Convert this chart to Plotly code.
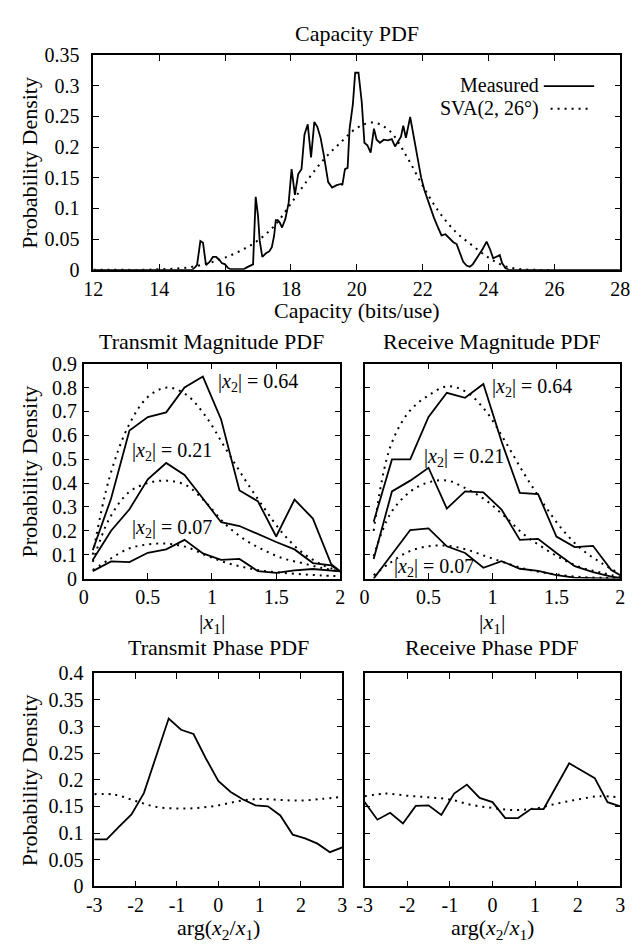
import plotly.graph_objects as go

W, H = 641, 950
FONT = "Liberation Serif"

# ---------------- data ----------------
cap_x = [12.0, 15.0, 15.1, 15.15, 15.25, 15.33, 15.42, 15.53, 15.63, 15.73, 15.83, 15.9, 16.0, 16.09, 16.17,
         16.56, 16.66, 16.8, 16.85, 16.93, 17.0, 17.05, 17.13, 17.24, 17.34, 17.42, 17.49, 17.54, 17.6, 17.66,
         17.73, 17.83, 17.93, 18.02, 18.12, 18.22, 18.32, 18.41, 18.51, 18.61, 18.71, 18.8, 18.9, 19.0, 19.13,
         19.25, 19.39, 19.52, 19.56, 19.64, 19.72, 19.78, 19.88, 19.95, 20.05, 20.15, 20.23, 20.32, 20.42, 20.52,
         20.6, 20.7, 20.82, 20.94, 21.06, 21.16, 21.26, 21.34, 21.41, 21.49, 21.62, 21.72, 21.85, 21.95, 22.05,
         22.15, 22.25, 22.34, 22.44, 22.57, 22.69, 22.78, 22.93, 23.03, 23.13, 23.23, 23.33, 23.43, 23.52, 23.67,
         23.82, 23.94, 24.04, 24.14, 24.24, 24.34, 24.41, 24.51, 24.61, 28.0]
cap_measured = [0, 0, 0.005, 0.008, 0.047, 0.044, 0.008, 0.013, 0.021, 0.021, 0.016, 0.011, 0.009, 0.003, 0.001,
                0.001, 0.004, 0.008, 0.009, 0.119, 0.088, 0.048, 0.021, 0.027, 0.030, 0.037, 0.056, 0.081, 0.081, 0.077,
                0.069, 0.083, 0.109, 0.164, 0.122, 0.156, 0.164, 0.22, 0.237, 0.183, 0.241, 0.233, 0.215, 0.186, 0.143,
                0.134, 0.138, 0.140, 0.138, 0.164, 0.166, 0.23, 0.27, 0.321, 0.321, 0.273, 0.207, 0.203, 0.191, 0.23,
                0.212, 0.207, 0.212, 0.211, 0.213, 0.201, 0.209, 0.217, 0.235, 0.215, 0.249, 0.22, 0.183, 0.151, 0.130,
                0.114, 0.098, 0.085, 0.072, 0.056, 0.058, 0.053, 0.045, 0.042, 0.027, 0.013, 0.007, 0.005, 0.009, 0.021,
                0.034, 0.046, 0.034, 0.019, 0.021, 0.024, 0.011, 0.003, 0, 0]

sva_cap_x = [12, 12.5, 13, 13.5, 14, 14.5, 15, 15.5, 16, 16.5, 17, 17.5, 18, 18.5, 19, 19.5, 20, 20.5, 21,
             21.5, 22, 22.5, 23, 23.5, 24, 24.5, 25, 25.5, 26]
sva_cap = [0, 0, 0, 0, 0.001, 0.002, 0.005, 0.011, 0.02, 0.032, 0.048, 0.072, 0.108, 0.146, 0.18, 0.207,
           0.231, 0.24, 0.226, 0.186, 0.137, 0.094, 0.062, 0.04, 0.02, 0.006, 0.001, 0, 0]

mag_x = [0.071, 0.214, 0.357, 0.5, 0.643, 0.786, 0.929, 1.071, 1.214, 1.357, 1.5, 1.643, 1.786, 1.929, 2.0]
tx_mag_064 = [0.119, 0.335, 0.62, 0.676, 0.696, 0.80, 0.846, 0.666, 0.369, 0.324, 0.176, 0.331, 0.251, 0.06, 0.03]
tx_mag_021 = [0.078, 0.20, 0.29, 0.416, 0.484, 0.434, 0.335, 0.236, 0.22, 0.186, 0.153, 0.122, 0.065, 0.055, 0.03]
tx_mag_007 = [0.031, 0.072, 0.069, 0.108, 0.122, 0.162, 0.105, 0.078, 0.082, 0.031, 0.024, 0.034, 0.04, 0.035, 0.03]

rx_mag_064 = [0.238, 0.499, 0.499, 0.677, 0.778, 0.757, 0.815, 0.574, 0.359, 0.354, 0.176, 0.132, 0.137, 0.036, 0.014]
rx_mag_021 = [0.082, 0.365, 0.41, 0.464, 0.293, 0.365, 0.361, 0.289, 0.162, 0.166, 0.107, 0.052, 0.027, 0.008, 0.003]
rx_mag_007 = [0.0, 0.10, 0.203, 0.21, 0.135, 0.107, 0.045, 0.073, 0.041, 0.032, 0.014, 0.004, 0.001, 0.0, 0.0]

sva_mag_x = [0.071, 0.2, 0.35, 0.5, 0.65, 0.8, 0.95, 1.1, 1.25, 1.4, 1.55, 1.7, 1.85, 2.0]
tx_sva_064 = [0.10, 0.42, 0.64, 0.76, 0.80, 0.77, 0.68, 0.55, 0.42, 0.30, 0.19, 0.11, 0.06, 0.03]
tx_sva_021 = [0.07, 0.25, 0.36, 0.40, 0.41, 0.39, 0.32, 0.23, 0.165, 0.12, 0.085, 0.065, 0.045, 0.03]
tx_sva_007 = [0.035, 0.08, 0.125, 0.143, 0.146, 0.132, 0.098, 0.068, 0.047, 0.032, 0.024, 0.018, 0.013, 0.01]
rx_sva_064 = [0.20, 0.55, 0.70, 0.767, 0.805, 0.78, 0.70, 0.574, 0.437, 0.313, 0.203, 0.121, 0.066, 0.018]
rx_sva_021 = [0.093, 0.27, 0.361, 0.403, 0.41, 0.375, 0.327, 0.258, 0.183, 0.128, 0.08, 0.045, 0.025, 0.005]
rx_sva_007 = [0.014, 0.066, 0.114, 0.135, 0.137, 0.121, 0.093, 0.066, 0.041, 0.025, 0.014, 0.006, 0.003, 0.002]

ph_x = [-3.0, -2.7, -2.4, -2.1, -1.8, -1.5, -1.2, -0.9, -0.6, -0.3, 0.0, 0.3, 0.6, 0.9, 1.2, 1.5, 1.8, 2.1, 2.4, 2.7, 3.0]
tx_phase = [0.088, 0.088, 0.112, 0.135, 0.175, 0.245, 0.315, 0.294, 0.286, 0.24, 0.198, 0.177, 0.163, 0.152,
            0.15, 0.133, 0.097, 0.09, 0.08, 0.064, 0.073]
rx_phase = [0.158, 0.125, 0.138, 0.118, 0.151, 0.152, 0.134, 0.174, 0.191, 0.166, 0.158, 0.128, 0.128, 0.145,
            0.145, 0.189, 0.231, 0.217, 0.203, 0.158, 0.15]
sva_ph_x = [-3, -2.5, -2, -1.5, -1, -0.5, 0, 0.5, 1, 1.5, 2, 2.5, 3]
tx_sva_phase = [0.173, 0.172, 0.16, 0.149, 0.146, 0.147, 0.152, 0.16, 0.164, 0.162, 0.161, 0.164, 0.168]
rx_sva_phase = [0.169, 0.174, 0.17, 0.167, 0.163, 0.153, 0.147, 0.143, 0.146, 0.155, 0.163, 0.169, 0.167]

cap_ticks = [12, 14, 16, 18, 20, 22, 24, 26, 28]
cap_yticks = [0, 0.05, 0.1, 0.15, 0.2, 0.25, 0.3, 0.35]
mag_ticks = [0, 0.5, 1, 1.5, 2]
mag_yticks = [0, 0.1, 0.2, 0.3, 0.4, 0.5, 0.6, 0.7, 0.8, 0.9]
ph_ticks = [-3, -2, -1, 0, 1, 2, 3]
ph_ticklabels = ["-3", "-2", "-1", "0", "1", "2", "3"]
ph_yticks = [0, 0.05, 0.1, 0.15, 0.2, 0.25, 0.3, 0.35, 0.4]

# ---------------- layout helpers ----------------
def xd(a, b):
    return [a / W, b / W]

def yd(top, bot):
    return [1 - bot / H, 1 - top / H]

panels = {
    "1": dict(x=(86, 630), y=(45, 265)),
    "2": dict(x=(76, 341), y=(361, 581)),
    "3": dict(x=(366, 630), y=(361, 581)),
    "4": dict(x=(87, 343), y=(678, 896)),
    "5": dict(x=(366, 630), y=(678, 896)),
}

fig = go.Figure()
solid = dict(color="black", width=1.8)
dotted = dict(color="black", width=2, dash="2px,5px")

def add(x, y, ax, line, shape="linear"):
    fig.add_trace(go.Scatter(x=x, y=y, mode="lines", line=dict(**line, shape=shape),
                             xaxis="x" + ("" if ax == "1" else ax),
                             yaxis="y" + ("" if ax == "1" else ax),
                             showlegend=False, hoverinfo="skip"))

add(sva_cap_x, sva_cap, "1", dotted, shape="spline")
add(cap_x, cap_measured, "1", solid)

for ys in (tx_sva_064, tx_sva_021, tx_sva_007):
    add(sva_mag_x, ys, "2", dotted, shape="spline")
for ys in (tx_mag_064, tx_mag_021, tx_mag_007):
    add(mag_x, ys, "2", solid)
for ys in (rx_sva_064, rx_sva_021, rx_sva_007):
    add(sva_mag_x, ys, "3", dotted, shape="spline")
for ys in (rx_mag_064, rx_mag_021, rx_mag_007):
    add(mag_x, ys, "3", solid)

add(sva_ph_x, tx_sva_phase, "4", dotted, shape="spline")
add(ph_x, tx_phase, "4", solid)
add(sva_ph_x, rx_sva_phase, "5", dotted, shape="spline")
add(ph_x, rx_phase, "5", solid)

tickfont = dict(family=FONT, size=20, color="black")
common = dict(showline=True, linecolor="black", linewidth=1.5, mirror="ticks", ticks="inside",
              ticklen=6, tickwidth=1.3, tickcolor="black", showgrid=False, zeroline=False,
              tickfont=tickfont)

ax_specs = {
    "1": dict(xr=[12, 28], xt=cap_ticks, xl=[str(t) for t in cap_ticks], yr=[0, 0.35], yt=cap_yticks, showy=True, ysd=8),
    "2": dict(xr=[0, 2], xt=mag_ticks, xl=["0", "0.5", "1", "1.5", "2"], yr=[0, 0.9], yt=mag_yticks, showy=True, ysd=1),
    "3": dict(xr=[0, 2], xt=mag_ticks, xl=["0", "0.5", "1", "1.5", "2"], yr=[0, 0.9], yt=mag_yticks, showy=False, ysd=1),
    "4": dict(xr=[-3, 3], xt=ph_ticks, xl=ph_ticklabels, yr=[0, 0.4], yt=ph_yticks, showy=True, ysd=5),
    "5": dict(xr=[-3, 3], xt=ph_ticks, xl=ph_ticklabels, yr=[0, 0.4], yt=ph_yticks, showy=False, ysd=5),
}

layout_axes = {}
for k, p in panels.items():
    s = ax_specs[k]
    suf = "" if k == "1" else k
    layout_axes["xaxis" + suf] = dict(common, domain=xd(*p["x"]), range=s["xr"], tickmode="array",
                                      tickvals=s["xt"], ticktext=s["xl"], anchor="y" + suf,
                                      ticklabelstandoff=0)
    layout_axes["yaxis" + suf] = dict(common, domain=yd(*p["y"]), range=s["yr"], tickmode="array",
                                      tickvals=s["yt"], ticktext=[("%g" % v) for v in s["yt"]],
                                      showticklabels=s["showy"], anchor="x" + suf,
                                      ticklabelstandoff=s["ysd"])

ann = []
def text(x, y, t, size=22, xanchor="center", yanchor="middle", angle=0, xref="paper", yref="paper"):
    ann.append(dict(x=x, y=y, xref=xref, yref=yref, text=t, showarrow=False, xanchor=xanchor,
                    yanchor=yanchor, textangle=angle, borderpad=0,
                    font=dict(family=FONT, size=size, color="black")))

def px(xp, yp):
    return xp / W, 1 - yp / H

# subplot titles
for t, xc, yc in [("Capacity PDF", 358, 23), ("Transmit Magnitude PDF", 208, 338),
                  ("Receive Magnitude PDF", 498, 338), ("Transmit Phase PDF", 215, 652),
                  ("Receive Phase PDF", 498, 652)]:
    text(*px(xc, yc), t)

# axis titles
text(*px(358, 307), "Capacity (bits/use)")
text(*px(208, 626), "|<i>x</i><sub>1</sub>|")
text(*px(498, 626), "|<i>x</i><sub>1</sub>|")
text(*px(215, 940), "arg(<i>x</i><sub>2</sub>/<i>x</i><sub>1</sub>)")
text(*px(498, 940), "arg(<i>x</i><sub>2</sub>/<i>x</i><sub>1</sub>)")
for yc in (155, 471, 787):
    text(*px(20, yc), "Probability Density", angle=-90)

# legend
text(*px(547, 76), "Measured", xanchor="right", size=20)
text(*px(547, 100), "SVA(2, 26°)", xanchor="right", size=20)

# curve labels
lab = "|<i>x</i><sub>2</sub>| = %s"
for xv, yv, v, ax in [(1.04, 0.82, "0.64", "2"), (0.37, 0.53, "0.21", "2"), (0.37, 0.21, "0.07", "2"),
                      (0.99, 0.80, "0.64", "3"), (0.46, 0.505, "0.21", "3"), (0.22, 0.045, "0.07", "3")]:
    text(xv, yv, lab % v, size=20, xanchor="left", xref="x" + ax, yref="y" + ax)

shapes = [
    dict(type="line", xref="paper", yref="paper", x0=551 / W, x1=603 / W, y0=1 - 77 / H, y1=1 - 77 / H,
         line=dict(color="black", width=1.8)),
    dict(type="line", xref="paper", yref="paper", x0=558 / W, x1=600 / W, y0=1 - 100 / H, y1=1 - 100 / H,
         line=dict(color="black", width=2, dash="2px,5px")),
]

fig.update_layout(width=W, height=H, margin=dict(l=0, r=0, t=0, b=0), paper_bgcolor="white",
                  plot_bgcolor="white", annotations=ann, shapes=shapes, showlegend=False,
                  font=dict(family=FONT, color="black"), **layout_axes)

fig.write_html("out.html")
